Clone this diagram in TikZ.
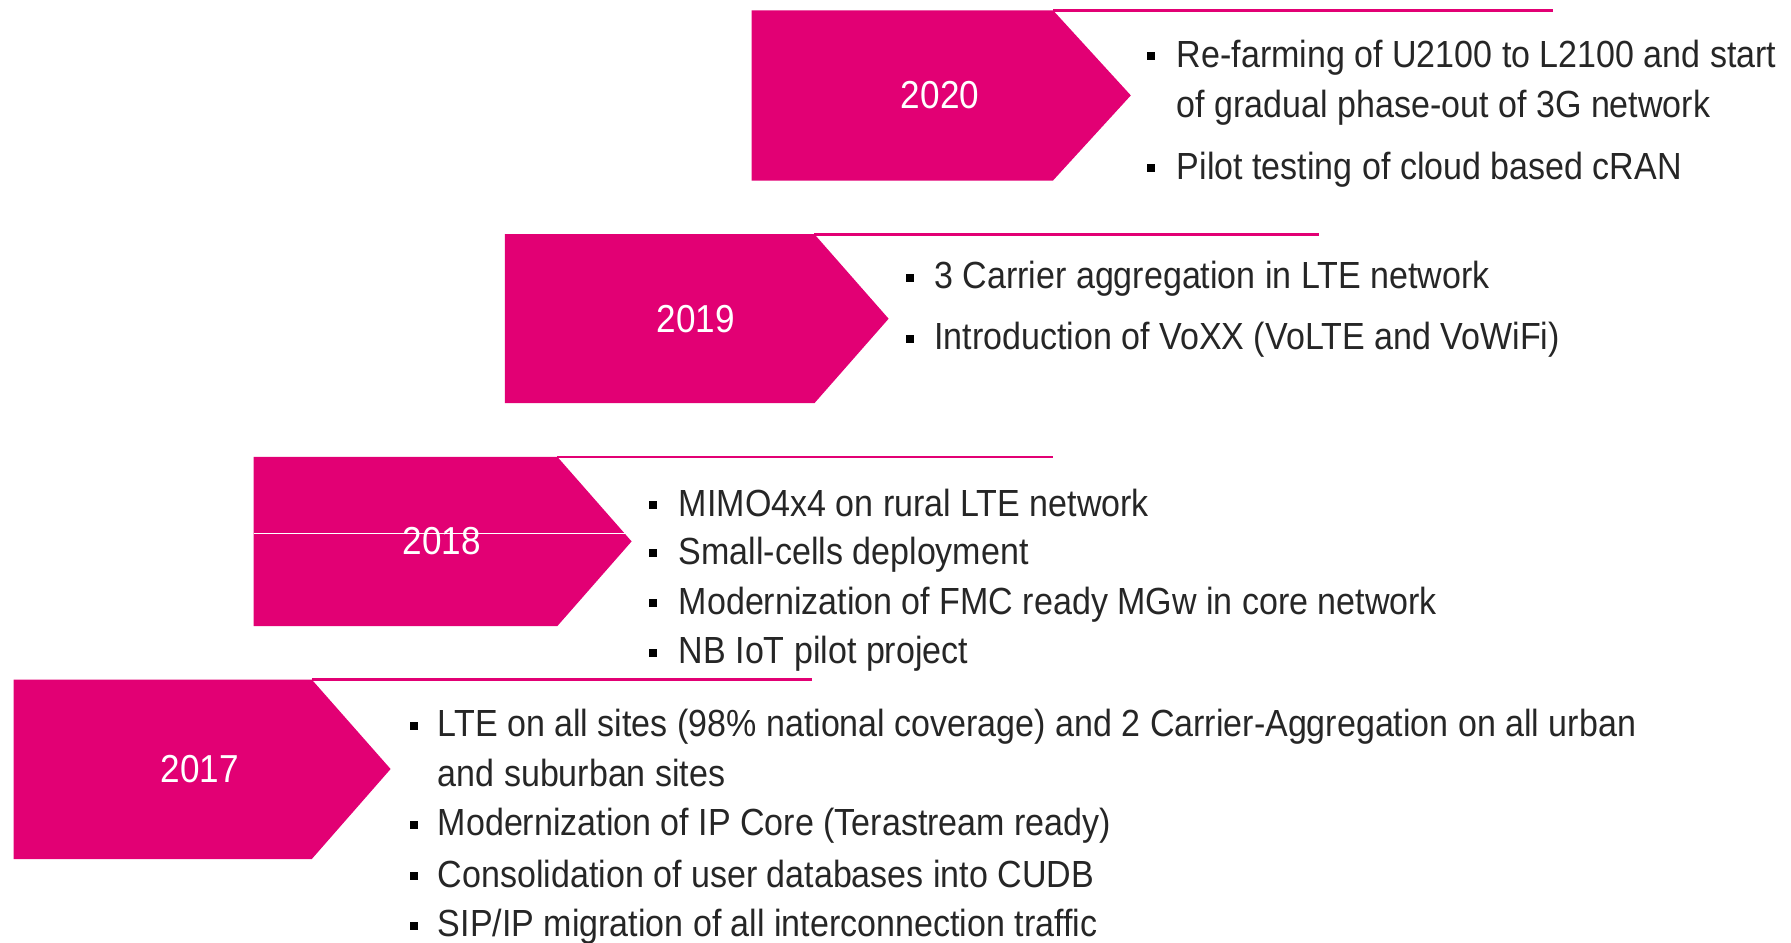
\documentclass[tikz,border=0pt]{standalone}
\usepackage{fontspec}
\setmainfont{Liberation Sans}[FakeStretch=0.90]
\definecolor{tmag}{HTML}{E20074}
\begin{document}
\begin{tikzpicture}[x=0.5pt,y=-0.5pt,
  item/.style={anchor=base west, inner sep=0, font=\fontsize{18.9}{22}\selectfont, text=black!85},
  yr/.style={inner sep=0, text=white, font=\fontsize{19.5}{22}\selectfont},
  bul/.style={fill=black, minimum size=4pt, inner sep=0},
  chev/.style={fill=tmag},
  topline/.style={draw=tmag, line width=1.3pt}]
\useasboundingbox (0,0) rectangle (1791,942);
% ---------- 2020
\coordinate (s20) at (1053,10.3);
\coordinate (e20) at (1553.4,10.3);
\fill[chev] (751.6,10.3) -- (s20) -- (1130.8,95.4) -- (1053,180.5) -- (751.6,180.5) -- cycle;
\draw[topline] (s20) -- (e20);
\node[yr] (y20) at (940,94.8) {2020};
\node[bul] (b20a) at (1151,56) {};
\node[item] (t20a) at (1176.5,67.2) {Re-farming of U2100 to L2100 and start};
\node[item] (t20b) at (1176.5,117.5) {of gradual phase-out of 3G network};
\node[bul] (b20c) at (1151,168) {};
\node[item] (t20c) at (1176.5,179.1) {Pilot testing of cloud based cRAN};
% ---------- 2019
\coordinate (s19) at (814.4,234.2);
\coordinate (e19) at (1319.3,234.2);
\fill[chev] (504.9,234.2) -- (s19) -- (888.6,318.7) -- (814.4,403.2) -- (504.9,403.2) -- cycle;
\draw[topline] (s19) -- (e19);
\node[yr] (y19) at (695.6,318.7) {2019};
\node[bul] (b19a) at (910,277.5) {};
\node[item] (t19a) at (934,288.5) {3 Carrier aggregation in LTE network};
\node[bul] (b19b) at (910,338.5) {};
\node[item] (t19b) at (934,349.5) {Introduction of VoXX (VoLTE and VoWiFi)};
% ---------- 2018
\coordinate (s18) at (557.4,456.9);
\coordinate (e18) at (1053.1,456.9);
\fill[chev] (253.6,456.9) -- (s18) -- (631.6,541.4) -- (557.4,626) -- (253.6,626) -- cycle;
\draw[topline] (s18) -- (e18);
\node[yr] (y18) at (442,541.4) {2018};
\draw[white, line width=0.6pt] (253.6,533.4) -- (626,533.4);
\node[bul] (b18a) at (653,505) {};
\node[item] (t18a) at (678.5,516.1) {MIMO4x4 on rural LTE network};
\node[bul] (b18b) at (653,553) {};
\node[item] (t18b) at (678.5,564) {Small-cells deployment};
\node[bul] (b18c) at (653,603.3) {};
\node[item] (t18c) at (678.5,614.3) {Modernization of FMC ready MGw in core network};
\node[bul] (b18d) at (653,652.5) {};
\node[item] (t18d) at (678.5,663.5) {NB IoT pilot project};
% ---------- 2017
\coordinate (s17) at (311.8,679.6);
\coordinate (e17) at (812.1,679.6);
\fill[chev] (13.7,679.6) -- (s17) -- (390.6,769) -- (311.8,859) -- (13.7,859) -- cycle;
\draw[topline] (s17) -- (e17);
\node[yr] (y17) at (200,768.7) {2017};
\node[bul] (b17a) at (413.5,725.5) {};
\node[item] (t17a) at (437.5,736.5) {LTE on all sites (98\% national coverage) and 2 Carrier-Aggregation on all urban};
\node[item] (t17b) at (437.5,786.5) {and suburban sites};
\node[bul] (b17c) at (413.5,825) {};
\node[item] (t17c) at (437.5,835.9) {Modernization of IP Core (Terastream ready)};
\node[bul] (b17d) at (413.5,876.3) {};
\node[item] (t17d) at (437.5,887.3) {Consolidation of user databases into CUDB};
\node[bul] (b17e) at (413.5,925.5) {};
\node[item] (t17e) at (437.5,936.5) {SIP/IP migration of all interconnection traffic};
\end{tikzpicture}
\end{document}
